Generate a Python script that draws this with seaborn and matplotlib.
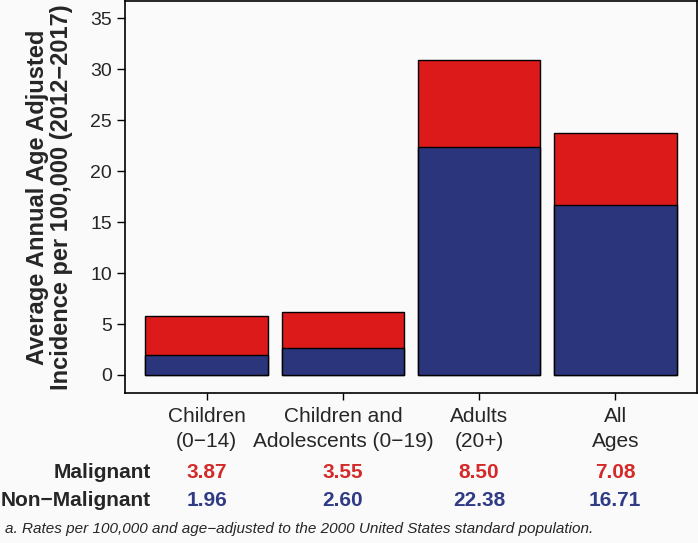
import matplotlib
matplotlib.use("Agg")
import matplotlib.pyplot as plt
import matplotlib.transforms as mtransforms
import seaborn as sns
import pandas as pd

categories = ["Children\n(0\u221214)", "Children and\nAdolescents (0\u221219)", "Adults\n(20+)", "All\nAges"]
malignant = [3.87, 3.55, 8.50, 7.08]
non_malignant = [1.96, 2.60, 22.38, 16.71]
malignant_labels = ["3.87", "3.55", "8.50", "7.08"]
non_malignant_labels = ["1.96", "2.60", "22.38", "16.71"]
yticks = [0, 5, 10, 15, 20, 25, 30, 35]

RED = "#dc1a1a"
BLUE = "#2a357b"
TXT_RED = "#d42a2a"
TXT_BLUE = "#2f3b85"
BG = "#fafafa"

sns.set_style("ticks")
plt.rcParams["font.family"] = ["Liberation Sans", "DejaVu Sans"]

df = pd.DataFrame({
    "cat": categories,
    "total": [m + n for m, n in zip(malignant, non_malignant)],
    "non": non_malignant,
})

W, H = 698, 543
fig = plt.figure(figsize=(W / 100, H / 100), dpi=100, facecolor=BG)
ax = fig.add_axes([125 / W, 1 - 393 / H, (697 - 125) / W, (393 - 1) / H])
ax.set_facecolor(BG)

sns.barplot(data=df, x="cat", y="total", color=RED, width=0.9,
            edgecolor="black", linewidth=1.0, saturation=1, ax=ax)
sns.barplot(data=df, x="cat", y="non", color=BLUE, width=0.9,
            edgecolor="black", linewidth=1.0, saturation=1, ax=ax)

ax.set_xlim(-0.6, 3.6)
ax.set_ylim(-1.77, 36.7)
ax.set_yticks(yticks)
ax.set_yticklabels([str(t) for t in yticks], fontsize=14)
ax.set_xlabel("")
ax.set_ylabel("Average Annual Age Adjusted\nIncidence per 100,000 (2012\u22122017)",
              fontsize=17, fontweight="bold", labelpad=12, linespacing=1.05)
ax.tick_params(axis="x", labelsize=15, length=5, width=1, pad=5, color="black")
ax.tick_params(axis="y", length=6, width=1, pad=3.5, color="black")
for lab in ax.get_xticklabels():
    lab.set_linespacing(1.38)
for s in ax.spines.values():
    s.set_visible(True)
    s.set_linewidth(1.2)
    s.set_color("black")

trans = mtransforms.blended_transform_factory(ax.transData, fig.transFigure)
y_mal = 1 - 472 / H
y_non = 1 - 500 / H
label_x = 151 / W
fig.text(label_x, y_mal, "Malignant", ha="right", va="center", fontsize=15, fontweight="bold")
fig.text(label_x, y_non, "Non\u2212Malignant", ha="right", va="center", fontsize=15, fontweight="bold")
for i, (m, n) in enumerate(zip(malignant_labels, non_malignant_labels)):
    ax.text(i, y_mal, m, transform=trans, ha="center", va="center", fontsize=15,
            fontweight="bold", color=TXT_RED)
    ax.text(i, y_non, n, transform=trans, ha="center", va="center", fontsize=15,
            fontweight="bold", color=TXT_BLUE)

fig.text(5 / W, 1 - 529 / H,
         "a. Rates per 100,000 and age\u2212adjusted to the 2000 United States standard population.",
         ha="left", va="center", fontsize=11, style="italic")

fig.savefig("out.png", dpi=100, facecolor=BG)
